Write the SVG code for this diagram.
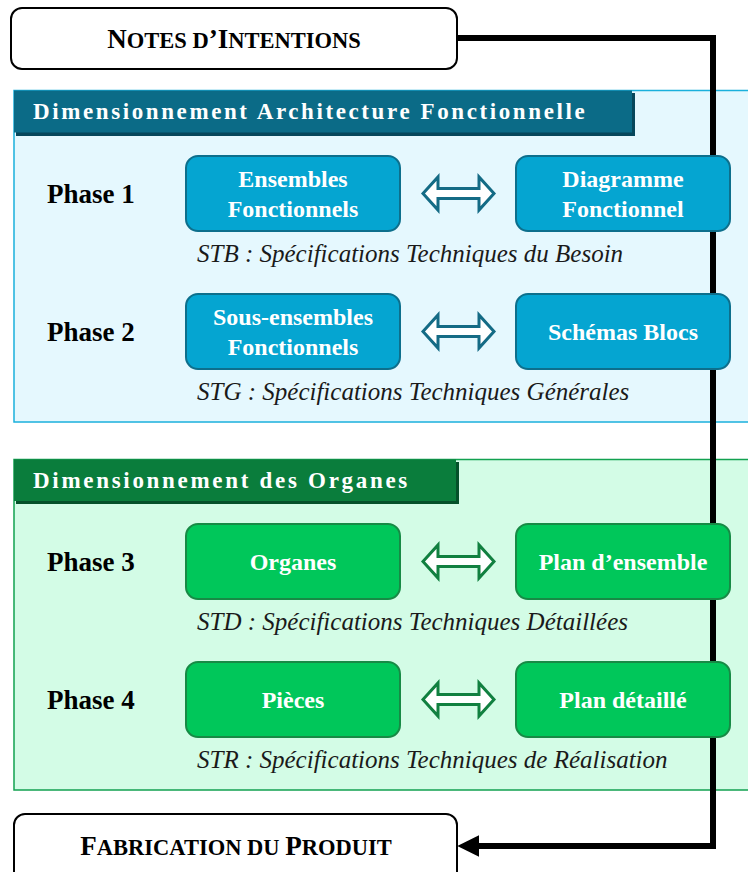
<svg xmlns="http://www.w3.org/2000/svg" width="748" height="872" viewBox="0 0 748 872">
<defs>
<style>
.title{font-family:"Liberation Serif","Times New Roman",serif;font-weight:bold;fill:#000}
.big{font-size:27px}
.sm{font-size:22.5px}
.hdr{font-family:"Liberation Serif","Times New Roman",serif;font-weight:bold;font-size:23px;fill:#fff}
.phase{font-family:"Liberation Serif","Times New Roman",serif;font-weight:bold;font-size:27px;fill:#000}
.btxt{font-family:"Liberation Serif","Times New Roman",serif;font-weight:bold;font-size:24px;fill:#fff;text-anchor:middle}
.cap{font-family:"Liberation Serif","Times New Roman",serif;font-style:italic;font-size:25px;fill:#1a1a1a}
.wbox{fill:#fff;stroke:#000;stroke-width:2}
.bbox{fill:#05a5d1;stroke:#0d6f8c;stroke-width:2}
.gbox{fill:#00c75a;stroke:#178a45;stroke-width:2}
.barr{fill:#fff;stroke:#146b85;stroke-width:3;stroke-linejoin:miter}
.garr{fill:#fff;stroke:#118040;stroke-width:3;stroke-linejoin:miter}
.conn{fill:none;stroke:#000;stroke-width:6;stroke-linejoin:miter}
</style>
<marker id="ah" markerUnits="userSpaceOnUse" markerWidth="22" markerHeight="22" viewBox="0 0 20 20" refX="3" refY="10" orient="auto">
<path d="M0,0 L20,10 L0,20 z" fill="#000"/>
</marker>
</defs>

<g id="section-architecture">
<rect x="14" y="90.5" width="740" height="331.5" fill="#e5f8fe" stroke="#1ab0dc" stroke-width="1.5"/>
<rect x="16" y="93" width="619" height="43" fill="#07475b"/>
<rect x="14" y="90.5" width="618" height="42" fill="#0b6b87"/>
<text class="hdr" x="33" y="119" letter-spacing="2.6">Dimensionnement Architecture Fonctionnelle</text>
</g>

<g id="section-organes">
<rect x="14" y="459.5" width="740" height="330.5" fill="#d3fce6" stroke="#12a150" stroke-width="1.5"/>
<rect x="16" y="462" width="443" height="42" fill="#05502a"/>
<rect x="14" y="459.5" width="442" height="41.5" fill="#0a7d3c"/>
<text class="hdr" x="33" y="488" letter-spacing="2.7">Dimensionnement des Organes</text>
</g>

<g id="connectors">
<path class="conn" d="M457,38 H713 V846 H476" marker-end="url(#ah)"/>
<polygon class="barr" points="423,193.5 438,177 438,188.5 479,188.5 479,177 494,193.5 479,210 479,198.5 438,198.5 438,210"/>
<polygon class="barr" points="423,331.5 438,315 438,326.5 479,326.5 479,315 494,331.5 479,348 479,336.5 438,336.5 438,348"/>
<polygon class="garr" points="423,561.5 438,545 438,556.5 479,556.5 479,545 494,561.5 479,578 479,566.5 438,566.5 438,578"/>
<polygon class="garr" points="423,699.5 438,683 438,694.5 479,694.5 479,683 494,699.5 479,716 479,704.5 438,704.5 438,716"/>
</g>

<g id="notes-intentions">
<rect class="wbox" x="11" y="8" width="446" height="61" rx="11"/>
<text class="title" x="234" y="48" text-anchor="middle"><tspan class="big">N</tspan><tspan class="sm">OTES D</tspan><tspan class="big">’I</tspan><tspan class="sm">NTENTIONS</tspan></text>
</g>

<g id="fabrication">
<rect class="wbox" x="14" y="814" width="443" height="70" rx="11"/>
<text class="title" x="236" y="855" text-anchor="middle"><tspan class="big">F</tspan><tspan class="sm">ABRICATION DU </tspan><tspan class="big">P</tspan><tspan class="sm">RODUIT</tspan></text>
</g>

<g id="phase1">
<text class="phase" x="47" y="203">Phase 1</text>
<text class="cap" x="197" y="262">STB : Spécifications Techniques du Besoin</text>
</g>
<g id="ensembles-fonctionnels">
<rect class="bbox" x="186" y="156" width="214" height="75" rx="12"/>
<text class="btxt" x="293" y="187">Ensembles</text>
<text class="btxt" x="293" y="217">Fonctionnels</text>
</g>
<g id="diagramme-fonctionnel">
<rect class="bbox" x="516" y="156" width="214" height="75" rx="12"/>
<text class="btxt" x="623" y="187">Diagramme</text>
<text class="btxt" x="623" y="217">Fonctionnel</text>
</g>

<g id="phase2">
<text class="phase" x="47" y="341">Phase 2</text>
<text class="cap" x="197" y="400">STG : Spécifications Techniques Générales</text>
</g>
<g id="sous-ensembles-fonctionnels">
<rect class="bbox" x="186" y="294" width="214" height="75" rx="12"/>
<text class="btxt" x="293" y="325">Sous-ensembles</text>
<text class="btxt" x="293" y="355">Fonctionnels</text>
</g>
<g id="schemas-blocs">
<rect class="bbox" x="516" y="294" width="214" height="75" rx="12"/>
<text class="btxt" x="623" y="340">Schémas Blocs</text>
</g>

<g id="phase3">
<text class="phase" x="47" y="571">Phase 3</text>
<text class="cap" x="197" y="630">STD : Spécifications Techniques Détaillées</text>
</g>
<g id="organes">
<rect class="gbox" x="186" y="524" width="214" height="75" rx="12"/>
<text class="btxt" x="293" y="570">Organes</text>
</g>
<g id="plan-ensemble">
<rect class="gbox" x="516" y="524" width="214" height="75" rx="12"/>
<text class="btxt" x="623" y="570">Plan d’ensemble</text>
</g>

<g id="phase4">
<text class="phase" x="47" y="709">Phase 4</text>
<text class="cap" x="197" y="768">STR : Spécifications Techniques de Réalisation</text>
</g>
<g id="pieces">
<rect class="gbox" x="186" y="662" width="214" height="75" rx="12"/>
<text class="btxt" x="293" y="708">Pièces</text>
</g>
<g id="plan-detaille">
<rect class="gbox" x="516" y="662" width="214" height="75" rx="12"/>
<text class="btxt" x="623" y="708">Plan détaillé</text>
</g>
</svg>
